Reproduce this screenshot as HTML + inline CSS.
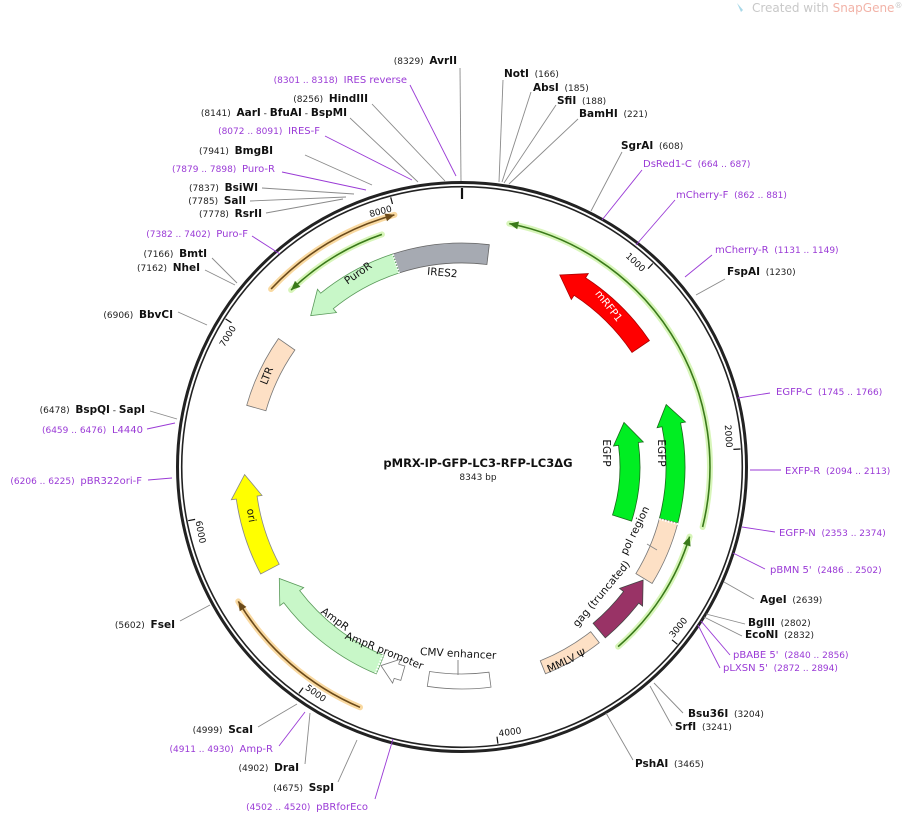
<!DOCTYPE html>
<html><head><meta charset="utf-8"><style>
html,body{margin:0;padding:0;background:#fff;width:904px;height:814px;overflow:hidden}
svg{display:block;font-family:"DejaVu Sans","Liberation Sans",sans-serif}
text{white-space:pre}
.e{font-size:10.5px;font-weight:bold;fill:#111}
.n{font-size:9px;font-weight:normal;fill:#222}
.p{font-size:10px;fill:#9a3ad6}
.pn{font-size:9px;fill:#9a3ad6}
.f{font-size:10.5px;fill:#111}
</style></head><body>
<svg id="s" width="904" height="814" viewBox="0 0 904 814" xmlns="http://www.w3.org/2000/svg" xml:space="preserve">
<g id="g"></g>
<text x="752" y="12" font-size="12" fill="#c8c8c8">Created with <tspan fill="#f2b3a8">SnapGene</tspan><tspan font-size="8" dy="-4">®</tspan></text>
<path d="M737 3 l4 9 l2 -2 z" fill="#a8d8e8"/>
<text x="478" y="467" text-anchor="middle" font-size="11.5" font-weight="bold" fill="#111">pMRX-IP-GFP-LC3-RFP-LC3ΔG</text>
<text x="478" y="480" text-anchor="middle" font-size="9" fill="#222">8343 bp</text>

<text class="f" transform="translate(442,276) rotate(5)" text-anchor="middle">IRES2</text>
<text class="f" transform="translate(360,276) rotate(-35)" text-anchor="middle">PuroR</text>
<text class="f" style="fill:#fff" transform="translate(606,308) rotate(52)" text-anchor="middle">mRFP1</text>
<text class="f" transform="translate(603,453) rotate(90)" text-anchor="middle">EGFP</text>
<text class="f" transform="translate(658,453) rotate(90)" text-anchor="middle">EGFP</text>
<text class="f" transform="translate(638,532) rotate(-64)" text-anchor="middle">pol region</text>
<line x1="647" y1="544" x2="657" y2="550" stroke="#888" stroke-width="0.9"/>
<text class="f" transform="translate(604,596) rotate(-50)" text-anchor="middle">gag (truncated)</text>
<text class="f" transform="translate(568,664) rotate(-25)" text-anchor="middle">MMLV Ψ</text>
<text class="f" transform="translate(458,657) rotate(3)" text-anchor="middle">CMV enhancer</text>
<line x1="458" y1="660" x2="458" y2="675" stroke="#888" stroke-width="1"/>
<text class="f" transform="translate(383,654) rotate(22)" text-anchor="middle">AmpR promoter</text>
<text class="f" transform="translate(333,622) rotate(36)" text-anchor="middle">AmpR</text>
<text class="f" transform="translate(248,516) rotate(80)" text-anchor="middle">ori</text>
<text class="f" transform="translate(270,377) rotate(-68)" text-anchor="middle">LTR</text>

<text x="457" y="64" text-anchor="end"><tspan class="n">(8329)  </tspan><tspan class="e">AvrII</tspan></text>
<text x="407" y="83" text-anchor="end"><tspan class="pn">(8301 .. 8318)  </tspan><tspan class="p">IRES reverse</tspan></text>
<text x="368" y="102" text-anchor="end"><tspan class="n">(8256)  </tspan><tspan class="e">HindIII</tspan></text>
<text x="347" y="116" text-anchor="end"><tspan class="n">(8141)  </tspan><tspan class="e">AarI</tspan><tspan class="n"> - </tspan><tspan class="e">BfuAI</tspan><tspan class="n"> - </tspan><tspan class="e">BspMI</tspan></text>
<text x="320" y="134" text-anchor="end"><tspan class="pn">(8072 .. 8091)  </tspan><tspan class="p">IRES-F</tspan></text>
<text x="273" y="154" text-anchor="end"><tspan class="n">(7941)  </tspan><tspan class="e">BmgBI</tspan></text>
<text x="275" y="172" text-anchor="end"><tspan class="pn">(7879 .. 7898)  </tspan><tspan class="p">Puro-R</tspan></text>
<text x="258" y="191" text-anchor="end"><tspan class="n">(7837)  </tspan><tspan class="e">BsiWI</tspan></text>
<text x="246" y="204" text-anchor="end"><tspan class="n">(7785)  </tspan><tspan class="e">SalI</tspan></text>
<text x="262" y="217" text-anchor="end"><tspan class="n">(7778)  </tspan><tspan class="e">RsrII</tspan></text>
<text x="248" y="237" text-anchor="end"><tspan class="pn">(7382 .. 7402)  </tspan><tspan class="p">Puro-F</tspan></text>
<text x="207" y="257" text-anchor="end"><tspan class="n">(7166)  </tspan><tspan class="e">BmtI</tspan></text>
<text x="200" y="271" text-anchor="end"><tspan class="n">(7162)  </tspan><tspan class="e">NheI</tspan></text>
<text x="173" y="318" text-anchor="end"><tspan class="n">(6906)  </tspan><tspan class="e">BbvCI</tspan></text>
<text x="145" y="413" text-anchor="end"><tspan class="n">(6478)  </tspan><tspan class="e">BspQI</tspan><tspan class="n"> - </tspan><tspan class="e">SapI</tspan></text>
<text x="143" y="433" text-anchor="end"><tspan class="pn">(6459 .. 6476)  </tspan><tspan class="p">L4440</tspan></text>
<text x="142" y="484" text-anchor="end"><tspan class="pn">(6206 .. 6225)  </tspan><tspan class="p">pBR322ori-F</tspan></text>
<text x="175" y="628" text-anchor="end"><tspan class="n">(5602)  </tspan><tspan class="e">FseI</tspan></text>
<text x="253" y="733" text-anchor="end"><tspan class="n">(4999)  </tspan><tspan class="e">ScaI</tspan></text>
<text x="273" y="752" text-anchor="end"><tspan class="pn">(4911 .. 4930)  </tspan><tspan class="p">Amp-R</tspan></text>
<text x="299" y="771" text-anchor="end"><tspan class="n">(4902)  </tspan><tspan class="e">DraI</tspan></text>
<text x="334" y="791" text-anchor="end"><tspan class="n">(4675)  </tspan><tspan class="e">SspI</tspan></text>
<text x="368" y="810" text-anchor="end"><tspan class="pn">(4502 .. 4520)  </tspan><tspan class="p">pBRforEco</tspan></text>

<text x="504" y="77"><tspan class="e">NotI</tspan><tspan class="n">  (166)</tspan></text>
<text x="533" y="91"><tspan class="e">AbsI</tspan><tspan class="n">  (185)</tspan></text>
<text x="557" y="104"><tspan class="e">SfiI</tspan><tspan class="n">  (188)</tspan></text>
<text x="579" y="117"><tspan class="e">BamHI</tspan><tspan class="n">  (221)</tspan></text>
<text x="621" y="149"><tspan class="e">SgrAI</tspan><tspan class="n">  (608)</tspan></text>
<text x="643" y="167"><tspan class="p">DsRed1-C</tspan><tspan class="pn">  (664 .. 687)</tspan></text>
<text x="676" y="198"><tspan class="p">mCherry-F</tspan><tspan class="pn">  (862 .. 881)</tspan></text>
<text x="715" y="253"><tspan class="p">mCherry-R</tspan><tspan class="pn">  (1131 .. 1149)</tspan></text>
<text x="727" y="275"><tspan class="e">FspAI</tspan><tspan class="n">  (1230)</tspan></text>
<text x="776" y="395"><tspan class="p">EGFP-C</tspan><tspan class="pn">  (1745 .. 1766)</tspan></text>
<text x="785" y="474"><tspan class="p">EXFP-R</tspan><tspan class="pn">  (2094 .. 2113)</tspan></text>
<text x="779" y="536"><tspan class="p">EGFP-N</tspan><tspan class="pn">  (2353 .. 2374)</tspan></text>
<text x="770" y="573"><tspan class="p">pBMN 5'</tspan><tspan class="pn">  (2486 .. 2502)</tspan></text>
<text x="760" y="603"><tspan class="e">AgeI</tspan><tspan class="n">  (2639)</tspan></text>
<text x="748" y="626"><tspan class="e">BglII</tspan><tspan class="n">  (2802)</tspan></text>
<text x="745" y="638"><tspan class="e">EcoNI</tspan><tspan class="n">  (2832)</tspan></text>
<text x="733" y="658"><tspan class="p">pBABE 5'</tspan><tspan class="pn">  (2840 .. 2856)</tspan></text>
<text x="723" y="671"><tspan class="p">pLXSN 5'</tspan><tspan class="pn">  (2872 .. 2894)</tspan></text>
<text x="688" y="717"><tspan class="e">Bsu36I</tspan><tspan class="n">  (3204)</tspan></text>
<text x="675" y="730"><tspan class="e">SrfI</tspan><tspan class="n">  (3241)</tspan></text>
<text x="635" y="767"><tspan class="e">PshAI</tspan><tspan class="n">  (3465)</tspan></text>

<g id="ticks" font-size="9" fill="#111">
<text id="t1">1000</text><text id="t2">2000</text><text id="t3">3000</text><text id="t4">4000</text>
<text id="t5">5000</text><text id="t6">6000</text><text id="t7">7000</text><text id="t8">8000</text>
</g>
</svg>
<script>
const cx=462,cy=467,NS="http://www.w3.org/2000/svg";
const g=document.getElementById('g');
function P(r,a){a=a*Math.PI/180;return [(cx+r*Math.sin(a)).toFixed(1),(cy-r*Math.cos(a)).toFixed(1)].join(',');}
function add(tag,attrs,parent){const e=document.createElementNS(NS,tag);for(const k in attrs)e.setAttribute(k,attrs[k]);(parent||g).appendChild(e);return e;}
function band(r1,r2,a1,a2,dir,fill,stroke){
 const rm=(r1+r2)/2,w=r2-r1;const h=dir?(w*1.1)/rm*180/Math.PI:0;
 let b1=a1,b2=a2;if(dir==='cw')b2=a2-h;if(dir==='ccw')b1=a1+h;
 const lg=(b2-b1)>180?1:0;
 let d=`M${P(r2,b1)} A${r2},${r2} 0 ${lg} 1 ${P(r2,b2)}`;
 if(dir==='cw')d+=` L${P(r2+5,b2)} L${P(rm,a2)} L${P(r1-5,b2)}`;
 d+=` L${P(r1,b2)} A${r1},${r1} 0 ${lg} 0 ${P(r1,b1)}`;
 if(dir==='ccw')d+=` L${P(r1-5,b1)} L${P(rm,a1)} L${P(r2+5,b1)}`;
 d+=' Z';add('path',{d,fill,stroke,'stroke-width':0.8});
}
function thin(r,a1,a2,arrowAt,glow,line){
 const d=`M${P(r,a1)} A${r},${r} 0 0 1 ${P(r,a2)}`;
 add('path',{d,fill:'none',stroke:glow,'stroke-width':6,'stroke-linecap':'round','opacity':0.8});
 add('path',{d,fill:'none',stroke:line,'stroke-width':1.6});
 const a=arrowAt, h=(arrowAt===a2?-1:1)*9/r*180/Math.PI;
 add('path',{d:`M${P(r,a)} L${P(r+4,a+h)} L${P(r-4,a+h)} Z`,fill:line});
}
thin(248,11,104,11,'#cdf2a8','#3a7a1a');
thin(238,107,139,107,'#cdf2a8','#3a7a1a');
thin(261,313,345,345,'#f8cf8a','#6b4a1a');
thin(246,316,341,316,'#cdf2a8','#3a7a1a');
thin(261,203,239,239,'#f8cf8a','#6b4a1a');
band(204,224,342,367,null,'#a6aab2','#666');
band(204,224,315,342,'ccw','#c8f7c8','#5a9a5a');
band(205,226,27,56,'ccw','#ff0000','#a00');
band(204,223,73,104.6,'ccw','#00ee22','#1a6a1a');
band(204,223,104.6,121.5,null,'#fde0c5','#777');
band(204,223,122,140,'ccw','#993366','#444');
band(209,223,142,158,null,'#fde0c5','#777');
band(207,222,172.5,189,null,'#ffffff','#777');
band(207,222,196,202.2,'cw','#ffffff','#777');
band(204,224,202.5,238.6,'cw','#c8f7c8','#5a9a5a');
band(207,228,242,268,'cw','#ffff00','#888');
band(204,224,286,305,null,'#fde0c5','#777');
band(158,178,74.6,107.7,'ccw','#00ee22','#1a6a1a');
[342,104.8,202.8].forEach(s=>{
 add('path',{d:`M${P(204,s)} L${P(224,s)}`,stroke:'#fff','stroke-width':2,'stroke-dasharray':'1.5,1.5'});});
add('circle',{cx,cy,r:284.5,fill:'none',stroke:'#222','stroke-width':3});
add('circle',{cx,cy,r:280.3,fill:'none',stroke:'#222','stroke-width':1.6});
add('path',{d:`M${P(279,0)} L${P(268,0)}`,stroke:'#111','stroke-width':2.2});
for(let k=1;k<=8;k++){
 const a=k*1000/8343*360;
 add('path',{d:`M${P(279,a)} L${P(272,a)}`,stroke:'#111','stroke-width':1.2});
 const t=document.getElementById('t'+k);
 const [x,y]=P(274,a).split(',');
 const top=(a<90||a>270);
 const rot=top?a:a-180;
 t.setAttribute('transform',`translate(${x},${y}) rotate(${rot})`);
 t.setAttribute('text-anchor',top?'end':'start');
 t.setAttribute('x',top?-2:2);t.setAttribute('y',top?9:-2);
}
const G='#8a8a8a',Pu='#9a3ad6';
const L=[
[460,68,461,181,G],[410,85,456,176,Pu],[372,104,445,181,G],[350,118,418,182,G],[325,136,412,180,Pu],
[305,155,372,185,G],[282,172,366,190,Pu],[262,188,354,194,G],[250,201,346,197,G],[266,213,343,199,G],
[252,236,280,254,Pu],[212,258,237,283,G],[205,270,235,285,G],[178,312,207,325,G],[150,411,177,419,G],
[147,429,175,423,Pu],[148,480,172,478,Pu],[180,621,210,605,G],[258,727,297,704,G],[279,746,305,712,Pu],
[305,764,310,713,G],[338,782,357,740,G],[375,799,393,739,Pu],
[503,80,499,182,G],[531,92,502,182,G],[556,105,504,183,G],[578,119,509,184,G],[622,152,591,211,G],
[642,170,602,220,Pu],[675,200,636,245,Pu],[712,255,685,277,Pu],[725,279,696,295,G],[770,393,738,398,Pu],
[781,470,750,470,Pu],[775,532,742,527,Pu],[765,569,733,553,Pu],[754,599,724,582,G],[745,624,706,614,G],
[742,636,704,617,G],[730,655,701,621,Pu],[720,668,698,625,Pu],[683,713,654,683,G],[672,726,650,686,G],[633,760,606,713,G]];
L.forEach(l=>add('line',{x1:l[0],y1:l[1],x2:l[2],y2:l[3],stroke:l[4],'stroke-width':0.9}));
</script>
</body></html>
